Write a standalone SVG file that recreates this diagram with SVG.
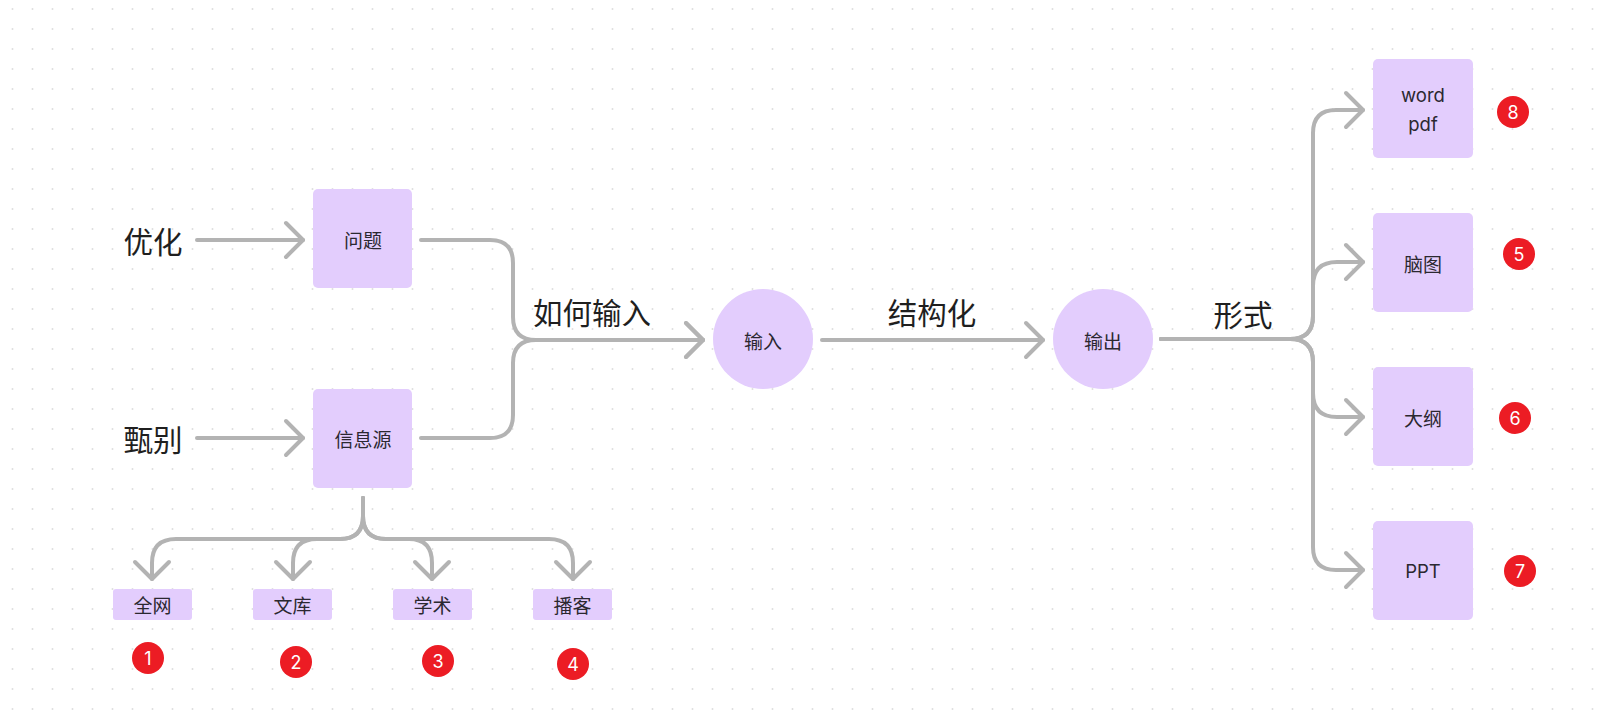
<svg xmlns="http://www.w3.org/2000/svg" width="1607" height="716" viewBox="0 0 1607 716">
  <defs>
    <pattern id="dots" x="0" y="0" width="20" height="20" patternUnits="userSpaceOnUse">
      <circle cx="12.5" cy="9" r="1" fill="#dedede"/>
    </pattern>
    <marker id="chev" viewBox="-20 -20 24 40" refX="0" refY="0" markerWidth="24" markerHeight="40" markerUnits="userSpaceOnUse" orient="auto">
      <path d="M -17 -17 L 0 0 L -17 17" fill="none" stroke="#b3b3b3" stroke-width="4" stroke-linecap="round" stroke-linejoin="round"/>
    </marker>
    <style>
      .box { fill: #e3cdfd; }
      .lbl { font-family: "Noto Sans CJK SC", "Inter", sans-serif; font-size: 19px; fill: #2b2830; text-anchor: middle; dominant-baseline: central; }
      .lat { font-family: "Inter", "Noto Sans CJK SC", sans-serif; font-size: 18.5px; fill: #2b2830; text-anchor: middle; dominant-baseline: central; }
      .big { font-family: "Noto Sans CJK SC", sans-serif; font-size: 29.5px; fill: #1f1f1f; text-anchor: middle; dominant-baseline: central; }
      .con { fill: none; stroke: #b3b3b3; stroke-width: 4; stroke-linecap: round; stroke-linejoin: round; marker-end: url(#chev); }
      .badge { fill: #ec1c24; }
      .num { font-family: "Inter", "Liberation Sans", sans-serif; font-size: 18px; fill: #ffffff; text-anchor: middle; dominant-baseline: central; }
    </style>
  </defs>
  <rect width="1607" height="716" fill="#ffffff"/>
  <rect width="1607" height="716" fill="url(#dots)"/>

  <g id="connectors">
    <path class="con" d="M 197 240 H 303"/>
    <path class="con" d="M 197 438 H 303"/>
    <path class="con" d="M 421 240 H 490 Q 513 240 513 263 V 317 Q 513 340 536 340 H 703"/>
    <path class="con" d="M 421 438 H 490 Q 513 438 513 415 V 363 Q 513 340 536 340 H 703"/>
    <path class="con" d="M 822 340 H 1043"/>
    <path class="con" d="M 1161 339 H 1290 Q 1313 339 1313 316 V 133 Q 1313 110 1336 110 H 1363"/>
    <path class="con" d="M 1161 339 H 1290 Q 1313 339 1313 316 V 286 Q 1313 262 1337 262 H 1363"/>
    <path class="con" d="M 1161 339 H 1290 Q 1313 339 1313 362 V 393 Q 1313 417 1337 417 H 1363"/>
    <path class="con" d="M 1161 339 H 1290 Q 1313 339 1313 362 V 547 Q 1313 570 1336 570 H 1363"/>
    <path class="con" d="M 363 498 V 516 Q 363 539 340 539 H 176 Q 152 539 152 563 V 579"/>
    <path class="con" d="M 363 498 V 516 Q 363 539 340 539 H 317 Q 293 539 293 563 V 579"/>
    <path class="con" d="M 363 498 V 516 Q 363 539 386 539 H 409 Q 432 539 432 563 V 579"/>
    <path class="con" d="M 363 498 V 516 Q 363 539 386 539 H 549 Q 573 539 573 563 V 579"/>
  </g>

  <g id="label-youhua"><text class="big" x="153" y="240">优化</text></g>
  <g id="label-zhenbie"><text class="big" x="153" y="438">甄别</text></g>
  <g id="label-ruhe"><text class="big" x="592" y="311">如何输入</text></g>
  <g id="label-jiegou"><text class="big" x="932" y="311">结构化</text></g>
  <g id="label-xingshi"><text class="big" x="1243" y="313">形式</text></g>

  <g id="node-wenti">
    <rect class="box" x="313" y="189" width="99" height="99" rx="5"/>
    <text class="lbl" x="363" y="239">问题</text>
  </g>
  <g id="node-xinxiyuan">
    <rect class="box" x="313" y="389" width="99" height="99" rx="5"/>
    <text class="lbl" x="363" y="438">信息源</text>
  </g>
  <g id="node-shuru">
    <circle class="box" cx="763" cy="339" r="50"/>
    <text class="lbl" x="763" y="340">输入</text>
  </g>
  <g id="node-shuchu">
    <circle class="box" cx="1103" cy="339" r="50"/>
    <text class="lbl" x="1103" y="340">输出</text>
  </g>
  <g id="node-wordpdf">
    <rect class="box" x="1373" y="59" width="100" height="99" rx="5"/>
    <text class="lat" x="1423" y="95">word</text>
    <text class="lat" x="1423" y="124">pdf</text>
  </g>
  <g id="node-naotu">
    <rect class="box" x="1373" y="213" width="100" height="99" rx="5"/>
    <text class="lbl" x="1423" y="263">脑图</text>
  </g>
  <g id="node-dagang">
    <rect class="box" x="1373" y="367" width="100" height="99" rx="5"/>
    <text class="lbl" x="1423" y="417">大纲</text>
  </g>
  <g id="node-ppt">
    <rect class="box" x="1373" y="521" width="100" height="99" rx="5"/>
    <text class="lat" x="1423" y="571">PPT</text>
  </g>
  <g id="node-quanwang">
    <rect class="box" x="113" y="589" width="79" height="31" rx="3"/>
    <text class="lbl" x="152.5" y="604.5">全网</text>
  </g>
  <g id="node-wenku">
    <rect class="box" x="253" y="589" width="79" height="31" rx="3"/>
    <text class="lbl" x="292.5" y="604.5">文库</text>
  </g>
  <g id="node-xueshu">
    <rect class="box" x="393" y="589" width="79" height="31" rx="3"/>
    <text class="lbl" x="432.5" y="604.5">学术</text>
  </g>
  <g id="node-boke">
    <rect class="box" x="533" y="589" width="79" height="31" rx="3"/>
    <text class="lbl" x="572.5" y="604.5">播客</text>
  </g>

  <g id="badge-1"><circle class="badge" cx="148" cy="658" r="16"/><text class="num" x="148" y="658">1</text></g>
  <g id="badge-2"><circle class="badge" cx="296" cy="662" r="16"/><text class="num" x="296" y="662">2</text></g>
  <g id="badge-3"><circle class="badge" cx="438" cy="661" r="16"/><text class="num" x="438" y="661">3</text></g>
  <g id="badge-4"><circle class="badge" cx="573" cy="664" r="16"/><text class="num" x="573" y="664">4</text></g>
  <g id="badge-5"><circle class="badge" cx="1519" cy="254" r="16"/><text class="num" x="1519" y="254">5</text></g>
  <g id="badge-6"><circle class="badge" cx="1515" cy="418" r="16"/><text class="num" x="1515" y="418">6</text></g>
  <g id="badge-7"><circle class="badge" cx="1520" cy="571" r="16"/><text class="num" x="1520" y="571">7</text></g>
  <g id="badge-8"><circle class="badge" cx="1513" cy="112" r="16"/><text class="num" x="1513" y="112">8</text></g>
</svg>
